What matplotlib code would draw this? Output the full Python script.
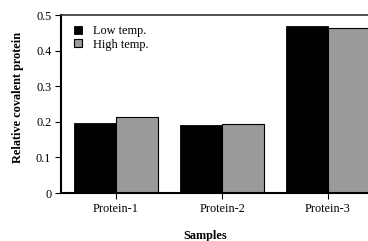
import matplotlib
matplotlib.use("Agg")
import matplotlib.pyplot as plt
import numpy as np

categories = ["Protein-1", "Protein-2", "Protein-3"]
low_temp = [0.196, 0.191, 0.469]
high_temp = [0.214, 0.194, 0.463]
yticks = [0, 0.1, 0.2, 0.3, 0.4, 0.5]
ytick_labels = ["0", "0.1", "0.2", "0.3", "0.4", "0.5"]

plt.rcParams['font.family'] = ['Liberation Serif', 'DejaVu Serif']
FS = 8.8

W, H = 368, 241
fig = plt.figure(figsize=(W/100, H/100), dpi=100)
x0, x1 = 61, 381
y0, y1 = 193, 15
ax = fig.add_axes([x0/W, 1 - y0/H, (x1-x0)/W, (y0-y1)/H])

x = np.arange(len(categories))
w = 0.4
ax.bar(x - w/2, low_temp, w, color='black', edgecolor='black', linewidth=0.6, label='Low temp.')
ax.bar(x + w/2, high_temp, w, color='#9a9a9a', edgecolor='black', linewidth=0.8, label='High temp.')

ax.set_xlim(-0.52, 2.5)
ax.set_ylim(0, 0.5)
ax.set_yticks(yticks)
ax.set_yticklabels(ytick_labels, fontsize=FS)
ax.set_xticks(x)
ax.set_xticklabels(categories, fontsize=FS)
ax.tick_params(axis='both', direction='out', length=4, width=0.8, pad=3)
for s in ['left', 'bottom']:
    ax.spines[s].set_linewidth(1.5)
ax.spines['top'].set_linewidth(1.2)
ax.spines['top'].set_color('#333333')
ax.spines['right'].set_visible(False)

ax.legend(loc='upper left', fontsize=FS, frameon=False, handlelength=0.65, handleheight=0.65,
          handletextpad=0.9, labelspacing=0.1, borderaxespad=0.3, bbox_to_anchor=(0.015, 0.99))

fig.text(18/W, 1 - 97/H, "Relative covalent protein", rotation=90, fontsize=FS,
         fontweight='bold', ha='center', va='center')
fig.text(205/W, 1 - 236/H, "Samples", fontsize=FS, fontweight='bold', ha='center', va='center')

fig.savefig("out.png", dpi=100)
